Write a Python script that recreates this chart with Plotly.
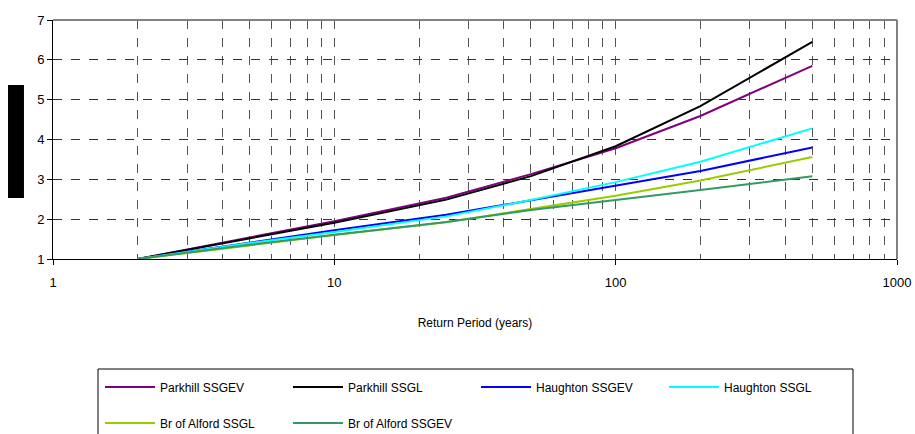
import plotly.graph_objects as go

return_period = [2, 5, 10, 25, 50, 100, 200, 500]
parkhill_gev = [1.0, 1.55, 1.95, 2.54, 3.13, 3.78, 4.59, 5.85]
parkhill_gl = [1.0, 1.52, 1.91, 2.49, 3.08, 3.83, 4.84, 6.45]
haughton_gev = [1.0, 1.42, 1.72, 2.11, 2.48, 2.84, 3.21, 3.80]
haughton_gl = [1.0, 1.40, 1.68, 2.07, 2.48, 2.93, 3.44, 4.28]
alford_gl = [1.0, 1.34, 1.60, 1.92, 2.25, 2.59, 2.97, 3.56]
alford_gev = [1.0, 1.36, 1.61, 1.93, 2.23, 2.48, 2.73, 3.08]

series = [
    ("Parkhill SSGEV", parkhill_gev, "#800080", "legend"),
    ("Parkhill SSGL", parkhill_gl, "#000000", "legend"),
    ("Haughton SSGEV", haughton_gev, "#0000FF", "legend"),
    ("Haughton SSGL", haughton_gl, "#00FFFF", "legend"),
    ("Br of Alford SSGL", alford_gl, "#99CC00", "legend2"),
    ("Br of Alford SSGEV", alford_gev, "#339966", "legend2"),
]

fig = go.Figure()
for name, vals, col, lg in series:
    fig.add_trace(go.Scatter(x=return_period, y=vals, name=name, mode="lines",
                             line=dict(color=col, width=2), legend=lg))

font = dict(family="Liberation Sans, Arial, sans-serif", size=12, color="black")
H = 239.0
W = 844.0
def px_x(p):
    return (p - 53) / W
def px_y(p):
    return -(p - 259) / H

leg_common = dict(orientation="h", xanchor="left", yanchor="middle",
                  borderwidth=0, bgcolor="rgba(0,0,0,0)",
                  entrywidth=123, entrywidthmode="pixels", itemwidth=50,
                  font=dict(size=12), traceorder="normal")

fig.update_layout(
    width=915, height=434,
    margin=dict(l=53, r=18, t=20, b=175, autoexpand=False),
    paper_bgcolor="white", plot_bgcolor="white",
    font=font,
    showlegend=True,
    legend=dict(x=px_x(100), y=px_y(387), **leg_common),
    legend2=dict(x=px_x(100), y=px_y(423), **leg_common),
    xaxis=dict(type="log", range=[0, 3], tickvals=[1, 10, 100, 1000],
               ticktext=["1", "10", "100", "1000"],
               showgrid=True, gridcolor="#555555", griddash="dash", gridwidth=1,
               minor=dict(dtick="D1", showgrid=True, gridcolor="#555555", griddash="dash",
                          ticks=""),
               showline=True, linecolor="black", linewidth=1, mirror=False,
               ticks="outside", ticklen=5, tickcolor="black", ticklabelstandoff=6,
               title=dict(text="Return Period (years)", font=dict(size=12), standoff=30),
               tickfont=dict(size=13), zeroline=False),
    yaxis=dict(range=[1, 7], dtick=1, showgrid=True, gridcolor="#333333", griddash="dash",
               showline=True, linecolor="black", linewidth=1,
               ticks="outside", ticklen=5, tickcolor="black",
               tickfont=dict(size=13), zeroline=False),
    shapes=[
        dict(type="line", xref="paper", yref="paper", x0=0, x1=1, y0=1, y1=1,
             line=dict(color="#808080", width=2)),
        dict(type="line", xref="paper", yref="paper", x0=1, x1=1, y0=0, y1=1,
             line=dict(color="#808080", width=2)),
        dict(type="rect", xref="paper", yref="paper", x0=-0.0533, x1=-0.0344,
             y0=0.255, y1=0.728, fillcolor="black", line=dict(width=0)),
        dict(type="rect", xref="paper", yref="paper", x0=px_x(98), x1=px_x(853),
             y0=px_y(440), y1=px_y(369), fillcolor="rgba(0,0,0,0)",
             line=dict(color="black", width=1), layer="below"),
    ],
)

fig.write_html("out.html")
